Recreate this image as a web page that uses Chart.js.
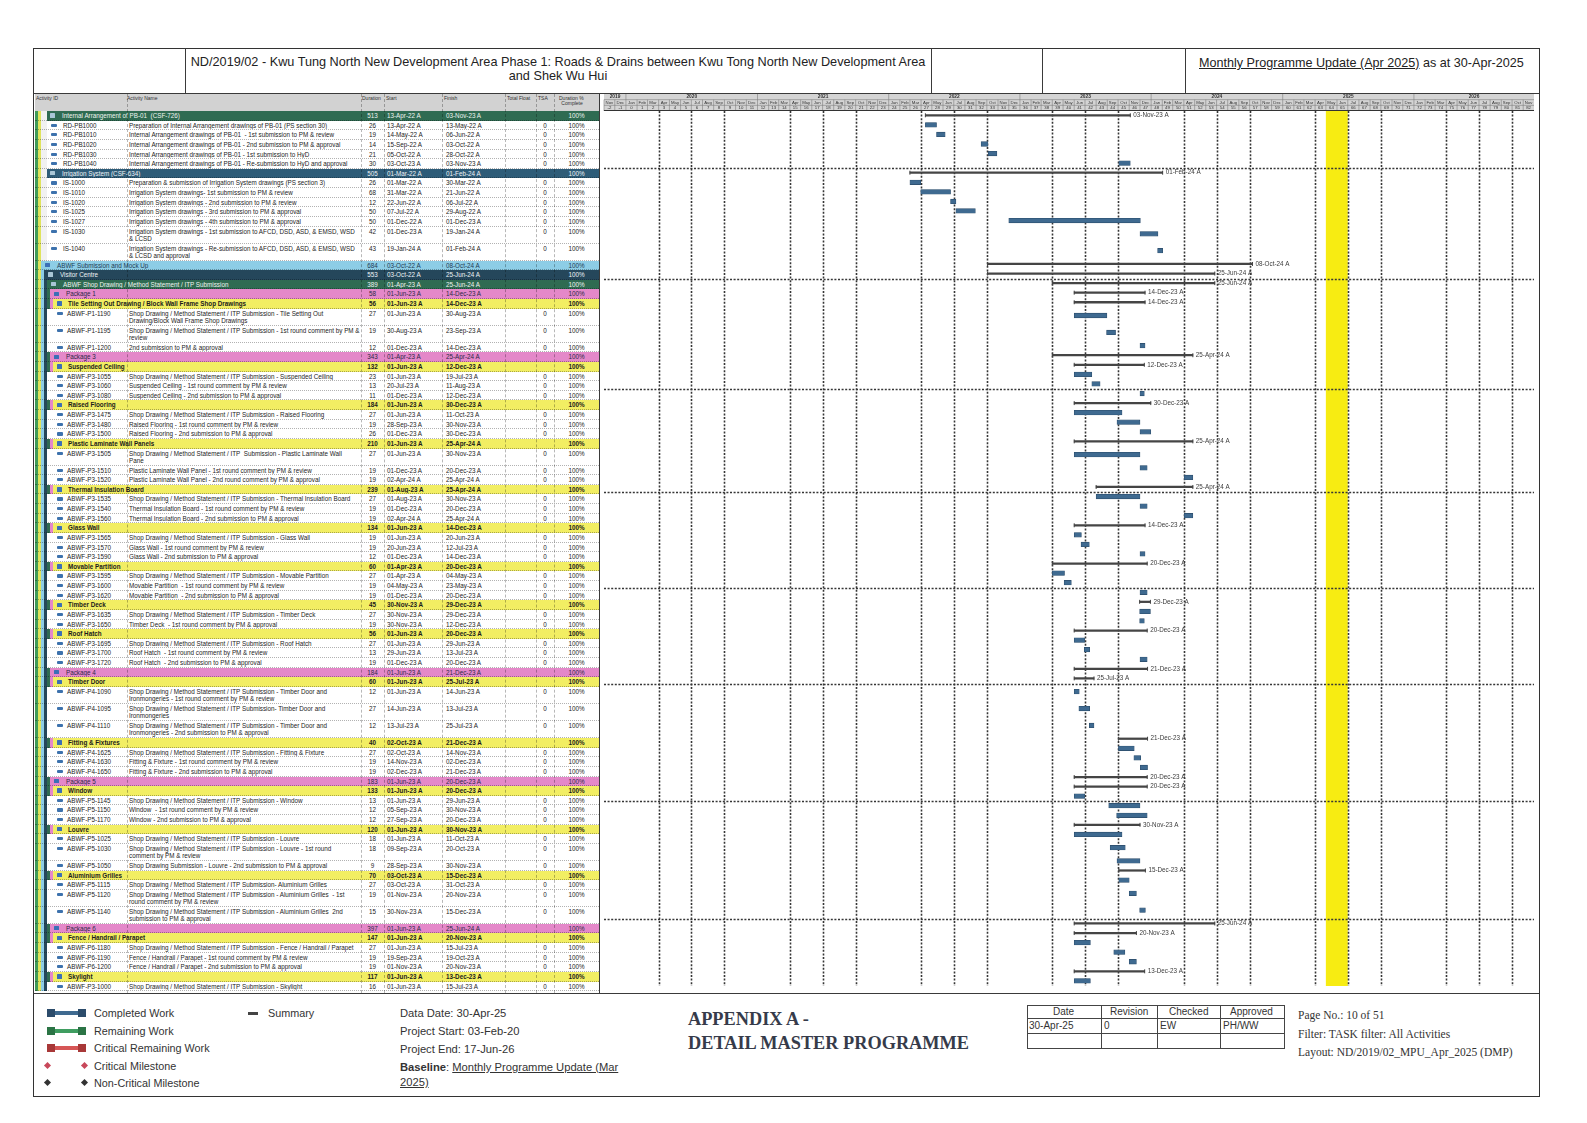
<!DOCTYPE html>
<html lang="en">
<head>
<meta charset="utf-8">
<title>ND/2019/02 - Detail Master Programme</title>
<script src="https://cdn.jsdelivr.net/npm/chart.js@4.4.1/dist/chart.umd.min.js"></script>
<style>
  html, body { margin: 0; background: #fff; }
  body { font-family: "Liberation Sans", Arial, sans-serif; color: #222; }
  #page { position: relative; width: 1587px; height: 1123px; overflow: hidden; }
  .ab { position: absolute; white-space: nowrap; }
  .hl { position: absolute; height: 0; border-top: 1px solid #3a3a3a; }
  .vl { position: absolute; width: 0; border-left: 1px solid #3a3a3a; }
  #frame { position: absolute; left: 33px; top: 48px; width: 1505px; height: 1047px; border: 1px solid #333; }
  #title { position: absolute; left: 185px; width: 746px; top: 55px; text-align: center; font-size: 12.7px; line-height: 14px; color: #222; }
  #update { left: 1199px; top: 56px; font-size: 12.6px; color: #222; }
  #thead { position: absolute; left: 35px; top: 94px; width: 564px; height: 17px; background: #d2d2d2; font-size: 5px; line-height: 5.5px; color: #333; }
  #thead span { position: absolute; top: 1.5px; white-space: pre; }
  #tbody { position: absolute; left: 35px; top: 111px; width: 564px; }
  .row { position: relative; box-sizing: border-box; border-bottom: 1px dotted rgba(0,0,0,.3); font-size: 6.3px; line-height: 7.4px; white-space: pre; overflow: hidden; color: #1c1c1c; }
  .row span { position: absolute; top: 1px; }
  .row i { position: absolute; display: block; }
  .sep { position: absolute; top: 94px; height: 899px; width: 0; border-left: 1px dashed rgba(0,0,0,.28); }
  #gantt { position: absolute; left: 599px; top: 94px; }
  .lgt { position: absolute; left: 94px; font-size: 10.8px; color: #333; white-space: nowrap; }
  .sw { position: absolute; left: 47px; width: 39px; height: 8px; }
  .sw::before { content: ""; position: absolute; left: 0; right: 0; top: 2px; height: 4px; background: var(--c); }
  .sw::after { content: ""; position: absolute; inset: 0; background: linear-gradient(to right, var(--d) 0 8px, transparent 8px 31px, var(--d) 31px 39px); }
  .dm { position: absolute; width: 5px; height: 5px; transform: rotate(45deg); }
  .info { position: absolute; left: 400px; font-size: 11.2px; color: #333; white-space: nowrap; }
  .app { position: absolute; left: 688px; font-family: "Liberation Serif", "Times New Roman", serif; font-weight: bold; font-size: 18.3px; color: #363b4a; white-space: nowrap; }
  .rev { position: absolute; font-size: 10px; color: #333; white-space: nowrap; }
  .rt { position: absolute; left: 1298px; font-family: "Liberation Serif", "Times New Roman", serif; font-size: 11.5px; color: #333; white-space: nowrap; }
</style>
</head>
<body>
<div id="page">
  <div id="frame"></div>
  <div class="hl" style="left:33px;top:93px;width:1506px"></div>
  <div class="vl" style="left:185px;top:48px;height:45px"></div>
  <div class="vl" style="left:931px;top:48px;height:45px"></div>
  <div class="vl" style="left:1042px;top:48px;height:45px"></div>
  <div class="vl" style="left:1185px;top:48px;height:45px"></div>
  <div id="title">ND/2019/02 - Kwu Tung North New Development Area Phase 1: Roads &amp; Drains between Kwu Tong North New Development Area<br>and Shek Wu Hui</div>
  <div class="ab" id="update"><u>Monthly Programme Update (Apr 2025)</u> as at 30-Apr-2025</div>

  <div id="thead">
    <span style="left:1px">Activity ID</span>
    <span style="left:92px">Activity Name</span>
    <span style="left:327px">Duration</span>
    <span style="left:351px">Start</span>
    <span style="left:409px">Finish</span>
    <span style="left:472px">Total Float</span>
    <span style="left:503px">TSA</span>
    <span style="left:524px;text-align:center">Duration %
 Complete</span>
  </div>
  <div id="tbody"></div>
  <canvas id="gantt"></canvas>
  <div class="vl" style="left:599px;top:94px;height:899px"></div>
  <div class="hl" style="left:33px;top:993px;width:1506px"></div>

  <div class="sw" style="top:1009px;--c:#3f6a90;--d:#2c4c6b"></div>
  <div class="lgt" style="top:1007px">Completed Work</div>
  <div class="sw" style="top:1027px;--c:#3f9d60;--d:#2b7445"></div>
  <div class="lgt" style="top:1025px">Remaining Work</div>
  <div class="sw" style="top:1044px;--c:#d65656;--d:#a83838"></div>
  <div class="lgt" style="top:1042px">Critical Remaining Work</div>
  <div class="dm" style="left:45px;top:1063px;background:#c8485a"></div>
  <div class="dm" style="left:82px;top:1063px;background:#c8485a"></div>
  <div class="lgt" style="top:1060px">Critical Milestone</div>
  <div class="dm" style="left:45px;top:1080px;background:#333"></div>
  <div class="dm" style="left:82px;top:1080px;background:#333"></div>
  <div class="lgt" style="top:1077px">Non-Critical Milestone</div>
  <div class="ab" style="left:248px;top:1012px;width:10px;height:3px;background:#444"></div>
  <div class="lgt" style="left:268px;top:1007px">Summary</div>

  <div class="info" style="top:1007px">Data Date: 30-Apr-25</div>
  <div class="info" style="top:1025px">Project Start: 03-Feb-20</div>
  <div class="info" style="top:1043px">Project End: 17-Jun-26</div>
  <div class="info" style="top:1061px"><b>Baseline</b>: <u>Monthly Programme Update (Mar</u></div>
  <div class="info" style="top:1076px"><u>2025)</u></div>

  <div class="app" style="top:1009px">APPENDIX A -</div>
  <div class="app" style="top:1033px">DETAIL MASTER PROGRAMME</div>

  <div class="ab" style="left:1027px;top:1005px;width:258px;height:44px;border:1px solid #444;box-sizing:border-box"></div>
  <div class="hl" style="left:1027px;top:1018px;width:258px;border-color:#444"></div>
  <div class="hl" style="left:1027px;top:1033px;width:258px;border-color:#444"></div>
  <div class="vl" style="left:1101px;top:1005px;height:44px;border-color:#444"></div>
  <div class="vl" style="left:1157px;top:1005px;height:44px;border-color:#444"></div>
  <div class="vl" style="left:1220px;top:1005px;height:44px;border-color:#444"></div>
  <div class="rev" style="left:1053px;top:1006px">Date</div>
  <div class="rev" style="left:1110px;top:1006px">Revision</div>
  <div class="rev" style="left:1169px;top:1006px">Checked</div>
  <div class="rev" style="left:1230px;top:1006px">Approved</div>
  <div class="rev" style="left:1029px;top:1020px">30-Apr-25</div>
  <div class="rev" style="left:1104px;top:1020px">0</div>
  <div class="rev" style="left:1160px;top:1020px">EW</div>
  <div class="rev" style="left:1223px;top:1020px">PH/WW</div>

  <div class="rt" style="top:1009px">Page No.: 10 of 51</div>
  <div class="rt" style="top:1028px">Filter: TASK filter: All Activities</div>
  <div class="rt" style="top:1046px">Layout: ND/2019/02_MPU_Apr_2025 (DMP)</div>
</div>

<script>
// row type: g/b/n/lb = WBS bands, p = package, y = sub-package, a = activity
const kinds = [
  'g', 'a', 'a', 'a', 'a', 'a',
  'b', 'a', 'a', 'a', 'a', 'a', 'a', 'a',
  'lb', 'n', 'g', 'p', 'y', 'a', 'a', 'a',
  'p', 'y', 'a', 'a', 'a',
  'y', 'a', 'a', 'a',
  'y', 'a', 'a', 'a',
  'y', 'a', 'a', 'a',
  'y', 'a', 'a', 'a',
  'y', 'a', 'a', 'a',
  'y', 'a', 'a',
  'y', 'a', 'a', 'a',
  'p', 'y', 'a', 'a', 'a',
  'y', 'a', 'a', 'a',
  'p', 'y', 'a', 'a', 'a',
  'y', 'a', 'a', 'a',
  'y', 'a', 'a', 'a',
  'p', 'y', 'a', 'a', 'a',
  'y', 'a'
];

const ids = [
  '', 'RD-PB1000', 'RD-PB1010', 'RD-PB1020', 'RD-PB1030', 'RD-PB1040',
  '', 'IS-1000', 'IS-1010', 'IS-1020', 'IS-1025', 'IS-1027', 'IS-1030', 'IS-1040',
  '', '', '', '', '', 'ABWF-P1-1190', 'ABWF-P1-1195', 'ABWF-P1-1200',
  '', '', 'ABWF-P3-1055', 'ABWF-P3-1060', 'ABWF-P3-1080',
  '', 'ABWF-P3-1475', 'ABWF-P3-1480', 'ABWF-P3-1500',
  '', 'ABWF-P3-1505', 'ABWF-P3-1510', 'ABWF-P3-1520',
  '', 'ABWF-P3-1535', 'ABWF-P3-1540', 'ABWF-P3-1560',
  '', 'ABWF-P3-1565', 'ABWF-P3-1570', 'ABWF-P3-1590',
  '', 'ABWF-P3-1595', 'ABWF-P3-1600', 'ABWF-P3-1620',
  '', 'ABWF-P3-1635', 'ABWF-P3-1650',
  '', 'ABWF-P3-1695', 'ABWF-P3-1700', 'ABWF-P3-1720',
  '', '', 'ABWF-P4-1090', 'ABWF-P4-1095', 'ABWF-P4-1110',
  '', 'ABWF-P4-1625', 'ABWF-P4-1630', 'ABWF-P4-1650',
  '', '', 'ABWF-P5-1145', 'ABWF-P5-1150', 'ABWF-P5-1170',
  '', 'ABWF-P5-1025', 'ABWF-P5-1030', 'ABWF-P5-1050',
  '', 'ABWF-P5-1115', 'ABWF-P5-1120', 'ABWF-P5-1140',
  '', '', 'ABWF-P6-1180', 'ABWF-P6-1190', 'ABWF-P6-1200',
  '', 'ABWF-P3-1000'
];

const names = [
  'Internal Arrangement of PB-01  (CSF-726)',
  'Preparation of Internal Arrangement drawings of PB-01 (PS section 30)',
  'Internal Arrangement drawings of PB-01  - 1st submission to PM & review',
  'Internal Arrangement drawings of PB-01 - 2nd submission to PM & approval',
  'Internal Arrangement drawings of PB-01 - 1st submission to HyD',
  'Internal Arrangement drawings of PB-01 - Re-submission to HyD and approval',
  'Irrigation System (CSF-634)',
  'Preparation & submission of Irrigation System drawings (PS section 3)',
  'Irrigation System drawings- 1st submission to PM & review',
  'Irrigation System drawings - 2nd submission to PM & review',
  'Irrigation System drawings - 3rd submission to PM & approval',
  'Irrigation System drawings - 4th submission to PM & approval',
  'Irrigation System drawings - 1st submission to AFCD, DSD, ASD, & EMSD, WSD\n& LCSD',
  'Irrigation System drawings - Re-submission to AFCD, DSD, ASD, & EMSD, WSD\n& LCSD and approval',
  'ABWF Submission and Mock Up',
  'Visitor Centre',
  'ABWF Shop Drawing / Method Statement / ITP Submission',
  'Package 1',
  'Tile Setting Out Drawing / Block Wall Frame Shop Drawings',
  'Shop Drawing / Method Statement / ITP Submission - Tile Setting Out\nDrawing/Block Wall Frame Shop Drawings',
  'Shop Drawing / Method Statement / ITP Submission - 1st round comment by PM &\nreview',
  '2nd submission to PM & approval',
  'Package 3',
  'Suspended Ceiling',
  'Shop Drawing / Method Statement / ITP Submission - Suspended Ceiling',
  'Suspended Ceiling - 1st round comment by PM & review',
  'Suspended Ceiling - 2nd submission to PM & approval',
  'Raised Flooring',
  'Shop Drawing / Method Statement / ITP Submission - Raised Flooring',
  'Raised Flooring - 1st round comment by PM & review',
  'Raised Flooring - 2nd submission to PM & approval',
  'Plastic Laminate Wall Panels',
  'Shop Drawing / Method Statement / ITP  Submission - Plastic Laminate Wall\nPane',
  'Plastic Laminate Wall Panel - 1st round comment by PM & review',
  'Plastic Laminate Wall Panel - 2nd round comment by PM & approval',
  'Thermal Insulation Board',
  'Shop Drawing / Method Statement / ITP Submission - Thermal Insulation Board',
  'Thermal Insulation Board - 1st round comment by PM & review',
  'Thermal Insulation Board - 2nd submission to PM & approval',
  'Glass Wall',
  'Shop Drawing / Method Statement / ITP Submission - Glass Wall',
  'Glass Wall - 1st round comment by PM & review',
  'Glass Wall - 2nd submission to PM & approval',
  'Movable Partition',
  'Shop Drawing / Method Statement / ITP Submission - Movable Partition',
  'Movable Partition  - 1st round comment by PM & review',
  'Movable Partition  - 2nd submission to PM & approval',
  'Timber Deck',
  'Shop Drawing / Method Statement / ITP Submission - Timber Deck',
  'Timber Deck  - 1st round comment by PM & approval',
  'Roof Hatch',
  'Shop Drawing / Method Statement / ITP Submission - Roof Hatch',
  'Roof Hatch  - 1st round comment by PM & review',
  'Roof Hatch  - 2nd submission to PM & approval',
  'Package 4',
  'Timber Door',
  'Shop Drawing / Method Statement / ITP Submission - Timber Door and\nIronmongeries - 1st round comment by PM & review',
  'Shop Drawing / Method Statement / ITP Submission- Timber Door and\nIronmongeries',
  'Shop Drawing / Method Statement / ITP Submission - Timber Door and\nIronmongeries - 2nd submission to PM & approval',
  'Fitting & Fixtures',
  'Shop Drawing / Method Statement / ITP Submission - Fitting & Fixture',
  'Fitting & Fixture - 1st round comment by PM & review',
  'Fitting & Fixture - 2nd submission to PM & approval',
  'Package 5',
  'Window',
  'Shop Drawing / Method Statement / ITP Submission - Window',
  'Window  - 1st round comment by PM & review',
  'Window - 2nd submission to PM & approval',
  'Louvre',
  'Shop Drawing / Method Statement / ITP Submission - Louvre',
  'Shop Drawing / Method Statement / ITP Submission - Louvre - 1st round\ncomment by PM & review',
  'Shop Drawing Submission - Louvre - 2nd submission to PM & approval',
  'Aluminium Grilles',
  'Shop Drawing / Method Statement / ITP Submission- Aluminium Grilles',
  'Shop Drawing / Method Statement / ITP Submission - Aluminium Grilles  - 1st\nround comment by PM & review',
  'Shop Drawing / Method Statement / ITP Submission - Aluminium Grilles  2nd\nsubmission to PM & approval',
  'Package 6',
  'Fence / Handrail / Parapet',
  'Shop Drawing / Method Statement / ITP Submission - Fence / Handrail / Parapet',
  'Fence / Handrail / Parapet - 1st round comment by PM & review',
  'Fence / Handrail / Parapet - 2nd submission to PM & approval',
  'Skylight',
  'Shop Drawing / Method Statement / ITP Submission - Skylight'
];

const durations = [
  513, 26, 19, 14, 21, 30,
  505, 26, 68, 12, 50, 50, 42, 43,
  684, 553, 389, 58, 56, 27, 19, 12,
  343, 132, 23, 13, 11,
  184, 27, 19, 26,
  210, 27, 19, 19,
  239, 27, 19, 19,
  134, 19, 19, 12,
  60, 27, 19, 19,
  45, 27, 19,
  56, 27, 13, 19,
  184, 60, 12, 27, 12,
  40, 27, 19, 19,
  183, 133, 13, 12, 12,
  120, 18, 18, 9,
  70, 27, 19, 15,
  397, 147, 27, 19, 19,
  117, 16
];

const starts = [
  '13-Apr-22', '13-Apr-22', '14-May-22', '15-Sep-22', '05-Oct-22', '03-Oct-23',
  '01-Mar-22', '01-Mar-22', '31-Mar-22', '22-Jun-22', '07-Jul-22', '01-Dec-22', '01-Dec-23', '19-Jan-24',
  '03-Oct-22', '03-Oct-22', '01-Apr-23', '01-Jun-23', '01-Jun-23', '01-Jun-23', '30-Aug-23', '01-Dec-23',
  '01-Apr-23', '01-Jun-23', '01-Jun-23', '20-Jul-23', '01-Dec-23',
  '01-Jun-23', '01-Jun-23', '28-Sep-23', '01-Dec-23',
  '01-Jun-23', '01-Jun-23', '01-Dec-23', '02-Apr-24',
  '01-Aug-23', '01-Aug-23', '01-Dec-23', '02-Apr-24',
  '01-Jun-23', '01-Jun-23', '20-Jun-23', '01-Dec-23',
  '01-Apr-23', '01-Apr-23', '04-May-23', '01-Dec-23',
  '30-Nov-23', '30-Nov-23', '30-Nov-23',
  '01-Jun-23', '01-Jun-23', '29-Jun-23', '01-Dec-23',
  '01-Jun-23', '01-Jun-23', '01-Jun-23', '14-Jun-23', '13-Jul-23',
  '02-Oct-23', '02-Oct-23', '14-Nov-23', '02-Dec-23',
  '01-Jun-23', '01-Jun-23', '01-Jun-23', '05-Sep-23', '27-Sep-23',
  '01-Jun-23', '01-Jun-23', '09-Sep-23', '28-Sep-23',
  '03-Oct-23', '03-Oct-23', '01-Nov-23', '30-Nov-23',
  '01-Jun-23', '01-Jun-23', '01-Jun-23', '19-Sep-23', '01-Nov-23',
  '01-Jun-23', '01-Jun-23'
];

const finishes = [
  '03-Nov-23', '13-May-22', '06-Jun-22', '03-Oct-22', '28-Oct-22', '03-Nov-23',
  '01-Feb-24', '30-Mar-22', '21-Jun-22', '06-Jul-22', '29-Aug-22', '01-Dec-23', '19-Jan-24', '01-Feb-24',
  '08-Oct-24', '25-Jun-24', '25-Jun-24', '14-Dec-23', '14-Dec-23', '30-Aug-23', '23-Sep-23', '14-Dec-23',
  '25-Apr-24', '12-Dec-23', '19-Jul-23', '11-Aug-23', '12-Dec-23',
  '30-Dec-23', '11-Oct-23', '30-Nov-23', '30-Dec-23',
  '25-Apr-24', '30-Nov-23', '20-Dec-23', '25-Apr-24',
  '25-Apr-24', '30-Nov-23', '20-Dec-23', '25-Apr-24',
  '14-Dec-23', '20-Jun-23', '12-Jul-23', '14-Dec-23',
  '20-Dec-23', '04-May-23', '23-May-23', '20-Dec-23',
  '29-Dec-23', '29-Dec-23', '12-Dec-23',
  '20-Dec-23', '29-Jun-23', '13-Jul-23', '20-Dec-23',
  '21-Dec-23', '25-Jul-23', '14-Jun-23', '13-Jul-23', '25-Jul-23',
  '21-Dec-23', '14-Nov-23', '02-Dec-23', '21-Dec-23',
  '20-Dec-23', '20-Dec-23', '29-Jun-23', '30-Nov-23', '20-Dec-23',
  '30-Nov-23', '11-Oct-23', '20-Oct-23', '30-Nov-23',
  '15-Dec-23', '31-Oct-23', '20-Nov-23', '15-Dec-23',
  '25-Jun-24', '20-Nov-23', '15-Jul-23', '19-Oct-23', '20-Nov-23',
  '13-Dec-23', '15-Jul-23'
];

const monthNames = ['Jan', 'Feb', 'Mar', 'Apr', 'May', 'Jun', 'Jul', 'Aug', 'Sep', 'Oct', 'Nov', 'Dec'];
const years = [2019, 2020, 2021, 2022, 2023, 2024, 2025, 2026];
const axisFrom = '01-Nov-19';
const axisTo = '01-Dec-26';
const firstProjectMonth = '01-Feb-20';
const highlightFrom = '01-May-25';
const highlightTo = '01-Jul-25';

function dayNum(s) {
  const p = s.split('-');
  return Date.UTC(2000 + Number(p[2]), monthNames.indexOf(p[1]), Number(p[0])) / 86400000;
}

// ---------- activity table ----------
const LINE_H = 7.4, ROW_PAD = 2.23, HEAD_H = 17;

const bandColors = {
  g:  { bg: '#2f6b52', fg: '#eef4ef' },
  b:  { bg: '#2e5c78', fg: '#eef3f6' },
  lb: { bg: '#8dcde6', fg: '#1d3b54' },
  n:  { bg: '#25475b', fg: '#eef3f6' },
  p:  { bg: '#e488c9', fg: '#2a2946' },
  y:  { bg: '#f2ee63', fg: '#1a1a1a', bold: true }
};
const stripe = { G: '#3f9a58', Y: '#dfe35c', W: '#f1f1f1', LB: '#8dcde6', N: '#25475b', DG: '#2f6b52', P: '#e488c9' };

function layoutFor(k, secA) {
  if (secA) return k === 'a' ? { s: ['G', 'Y', 'W', 'W'], icon: 51, text: 63 } : { s: ['G', 'Y', 'W', 'W'], icon: 50, text: 62 };
  if (k === 'lb') return { s: ['G', 'Y'], icon: 45, text: 57 };
  if (k === 'n') return { s: ['G', 'Y', 'LB'], icon: 48, text: 60 };
  if (k === 'g') return { s: ['G', 'Y', 'LB', 'N'], icon: 51, text: 63 };
  if (k === 'p') return { s: ['G', 'Y', 'LB', 'N', 'DG'], icon: 54, text: 66 };
  if (k === 'y') return { s: ['G', 'Y', 'LB', 'N', 'DG', 'P'], icon: 57, text: 68 };
  return { s: ['G', 'Y', 'LB', 'N'], icon: 57, text: 67 };
}

function addSpan(row, text, left, extra) {
  const sp = document.createElement('span');
  sp.textContent = text;
  sp.style.left = left + 'px';
  if (extra) Object.assign(sp.style, extra);
  row.appendChild(sp);
  return sp;
}

const tbody = document.getElementById('tbody');

kinds.forEach((k, i) => {
  const secA = i < 14;
  const lay = layoutFor(k, secA);
  const band = bandColors[k];
  const lines = names[i].split('\n').length;

  const row = document.createElement('div');
  row.className = 'row';
  row.style.height = (lines * LINE_H + ROW_PAD) + 'px';

  const stops = lay.s.map((c, j) => `${stripe[c]} ${j * 3}px ${(j + 1) * 3}px`);
  const w = lay.s.length * 3;
  row.style.background = `linear-gradient(to right, ${stops.join(', ')}, ${band ? band.bg : '#fff'} ${w}px)`;

  const icon = document.createElement('i');
  icon.style.left = (lay.icon - 35) + 'px';
  if (k === 'a') {
    Object.assign(icon.style, { top: '3px', width: '6px', height: '3.2px', background: '#3d72ad', borderRadius: '1px' });
  } else {
    const dark = k === 'g' || k === 'b' || k === 'n';
    Object.assign(icon.style, { top: '2.2px', width: '5px', height: '4.5px', background: dark ? '#a9c6d6' : '#3b6fb6', borderRadius: '0.5px' });
  }
  row.appendChild(icon);

  const fg = band ? { color: band.fg } : {};
  if (band && band.bold) fg.fontWeight = 'bold';

  if (k === 'a') {
    addSpan(row, ids[i], lay.text - 35);
    addSpan(row, names[i], 94);
  } else {
    addSpan(row, names[i], lay.text - 35, fg);
  }
  addSpan(row, String(durations[i]), 326, Object.assign({ width: '23px', textAlign: 'center' }, fg));
  addSpan(row, starts[i] + ' A', 352, fg);
  addSpan(row, finishes[i] + ' A', 411, fg);
  if (k === 'a') addSpan(row, '0', 501, { width: '18px', textAlign: 'center' });
  addSpan(row, '100%', 519, Object.assign({ width: '45px', textAlign: 'center' }, fg));

  tbody.appendChild(row);
});

[127, 361, 384, 442, 505, 536, 554].forEach(x => {
  const d = document.createElement('div');
  d.className = 'sep';
  d.style.left = x + 'px';
  document.getElementById('page').appendChild(d);
});

// row positions in the table body, used as the chart's y values
const bodyBox = tbody.getBoundingClientRect();
const rowTop = [], rowMid = [];
Array.from(tbody.children).forEach(el => {
  const r = el.getBoundingClientRect();
  rowTop.push(r.top - bodyBox.top);
  rowMid.push(r.top - bodyBox.top + r.height / 2 - 0.5);
});

// ---------- gantt ----------
const actBars = [], sumBars = [], sumEnds = [], sumLabels = [];
kinds.forEach((k, i) => {
  const s = dayNum(starts[i]);
  const f = dayNum(finishes[i]) + 1;
  if (k === 'a') {
    actBars.push({ x: [s, f], y: rowMid[i] });
  } else {
    sumBars.push({ x: [s, f], y: rowMid[i] });
    sumEnds.push({ x: s, y: rowMid[i] }, { x: f, y: rowMid[i] });
    sumLabels.push({ x: f, y: rowMid[i], text: finishes[i] + ' A' });
  }
});

const canvas = document.getElementById('gantt');
canvas.width = 940;
canvas.height = Math.round(HEAD_H + bodyBox.height);
const bodyH = canvas.height - HEAD_H;

function monthList() {
  const out = [];
  const start = new Date(dayNum(axisFrom) * 86400000);
  let y = start.getUTCFullYear(), m = start.getUTCMonth();
  const end = dayNum(axisTo);
  while (Date.UTC(y, m, 1) / 86400000 < end) {
    out.push({ y, m, d0: Date.UTC(y, m, 1) / 86400000, d1: Date.UTC(y, m + 1, 1) / 86400000 });
    m++; if (m > 11) { m = 0; y++; }
  }
  return out;
}
const months = monthList();
const pm0 = new Date(dayNum(firstProjectMonth) * 86400000);

const ganttDecor = {
  id: 'ganttDecor',
  beforeDatasetsDraw(chart) {
    const { ctx, chartArea: a, scales: { x, y } } = chart;
    ctx.save();
    const h0 = x.getPixelForValue(dayNum(highlightFrom));
    const h1 = x.getPixelForValue(dayNum(highlightTo));
    ctx.fillStyle = '#f7ec12';
    ctx.fillRect(h0, a.top, h1 - h0, a.bottom - a.top);

    ctx.strokeStyle = '#363636';
    ctx.lineWidth = 1.6;
    ctx.setLineDash([2, 1.6]);
    months.forEach(mo => {
      if (mo.m === 3 || mo.m === 6 || mo.m === 9) {
        const px = Math.round(x.getPixelForValue(mo.d0)) + 0.5;
        ctx.beginPath(); ctx.moveTo(px, a.top); ctx.lineTo(px, a.bottom); ctx.stroke();
      }
    });
    for (let i = 6; i < rowTop.length; i += 10) {
      const py = Math.round(y.getPixelForValue(rowTop[i])) + 0.5;
      ctx.beginPath(); ctx.moveTo(a.left, py); ctx.lineTo(a.right, py); ctx.stroke();
    }
    ctx.restore();
  },
  afterDatasetsDraw(chart) {
    const { ctx, scales: { x, y } } = chart;
    ctx.save();
    ctx.font = '6.3px "Liberation Sans", Arial, sans-serif';
    ctx.fillStyle = '#3a3a3a';
    ctx.textBaseline = 'middle';
    sumLabels.forEach(l => ctx.fillText(l.text, x.getPixelForValue(l.x) + 3, y.getPixelForValue(l.y)));
    ctx.restore();
  },
  afterDraw(chart) {
    const { ctx, chartArea: a, scales: { x } } = chart;
    const rh = a.top / 3;
    ctx.save();
    ctx.fillStyle = '#d4d4d4';
    ctx.fillRect(a.left, 0, a.right - a.left, a.top);
    ctx.strokeStyle = '#7d7d7d';
    ctx.lineWidth = 0.6;
    [rh, rh * 2].forEach(yy => { ctx.beginPath(); ctx.moveTo(a.left, yy); ctx.lineTo(a.right, yy); ctx.stroke(); });
    ctx.fillStyle = '#333';
    ctx.textAlign = 'center';
    ctx.textBaseline = 'middle';
    months.forEach(mo => {
      const x0 = x.getPixelForValue(mo.d0), x1 = x.getPixelForValue(mo.d1);
      ctx.beginPath(); ctx.moveTo(x0, mo.m === 0 ? 0 : rh); ctx.lineTo(x0, a.top); ctx.stroke();
      ctx.font = '4.3px "Liberation Sans", Arial, sans-serif';
      ctx.fillText(monthNames[mo.m], (x0 + x1) / 2, rh * 1.5);
      const num = (mo.y - pm0.getUTCFullYear()) * 12 + mo.m - pm0.getUTCMonth() + 1;
      ctx.fillText(String(num), (x0 + x1) / 2, rh * 2.5);
    });
    ctx.font = 'bold 4.8px "Liberation Sans", Arial, sans-serif';
    years.forEach(yr => {
      const x0 = Math.max(a.left, x.getPixelForValue(Date.UTC(yr, 0, 1) / 86400000));
      const x1 = Math.min(a.right, x.getPixelForValue(Date.UTC(yr + 1, 0, 1) / 86400000));
      if (x1 - x0 > 14) ctx.fillText(String(yr), (x0 + x1) / 2, rh * 0.5);
    });
    ctx.strokeStyle = '#333';
    ctx.lineWidth = 1;
    ctx.beginPath(); ctx.moveTo(a.left, a.top - 0.5); ctx.lineTo(a.right, a.top - 0.5); ctx.stroke();
    ctx.restore();
  }
};

new Chart(canvas, {
  type: 'bar',
  data: {
    datasets: [
      {
        label: 'Completed Work',
        data: actBars,
        indexAxis: 'y',
        grouped: false,
        barThickness: 4.6,
        backgroundColor: '#3f6a90',
        borderColor: '#2b4b69',
        borderWidth: 0.6,
        borderSkipped: false
      },
      {
        label: 'Summary',
        data: sumBars,
        indexAxis: 'y',
        grouped: false,
        barThickness: 1.6,
        backgroundColor: '#454545',
        borderWidth: 0
      },
      {
        type: 'scatter',
        label: 'Summary ends',
        data: sumEnds,
        pointStyle: 'line',
        rotation: 90,
        radius: 2,
        borderColor: '#454545',
        borderWidth: 1
      }
    ]
  },
  options: {
    responsive: false,
    animation: false,
    layout: { padding: { top: HEAD_H, left: 0, right: 0, bottom: 0 } },
    plugins: { legend: { display: false }, tooltip: { enabled: false } },
    scales: {
      x: { type: 'linear', min: dayNum(axisFrom), max: dayNum(axisTo), offset: false, grid: { offset: false }, display: false },
      y: { type: 'linear', min: 0, max: bodyH, reverse: true, offset: false, grid: { offset: false }, display: false }
    }
  },
  plugins: [ganttDecor]
});
</script>
</body>
</html>
